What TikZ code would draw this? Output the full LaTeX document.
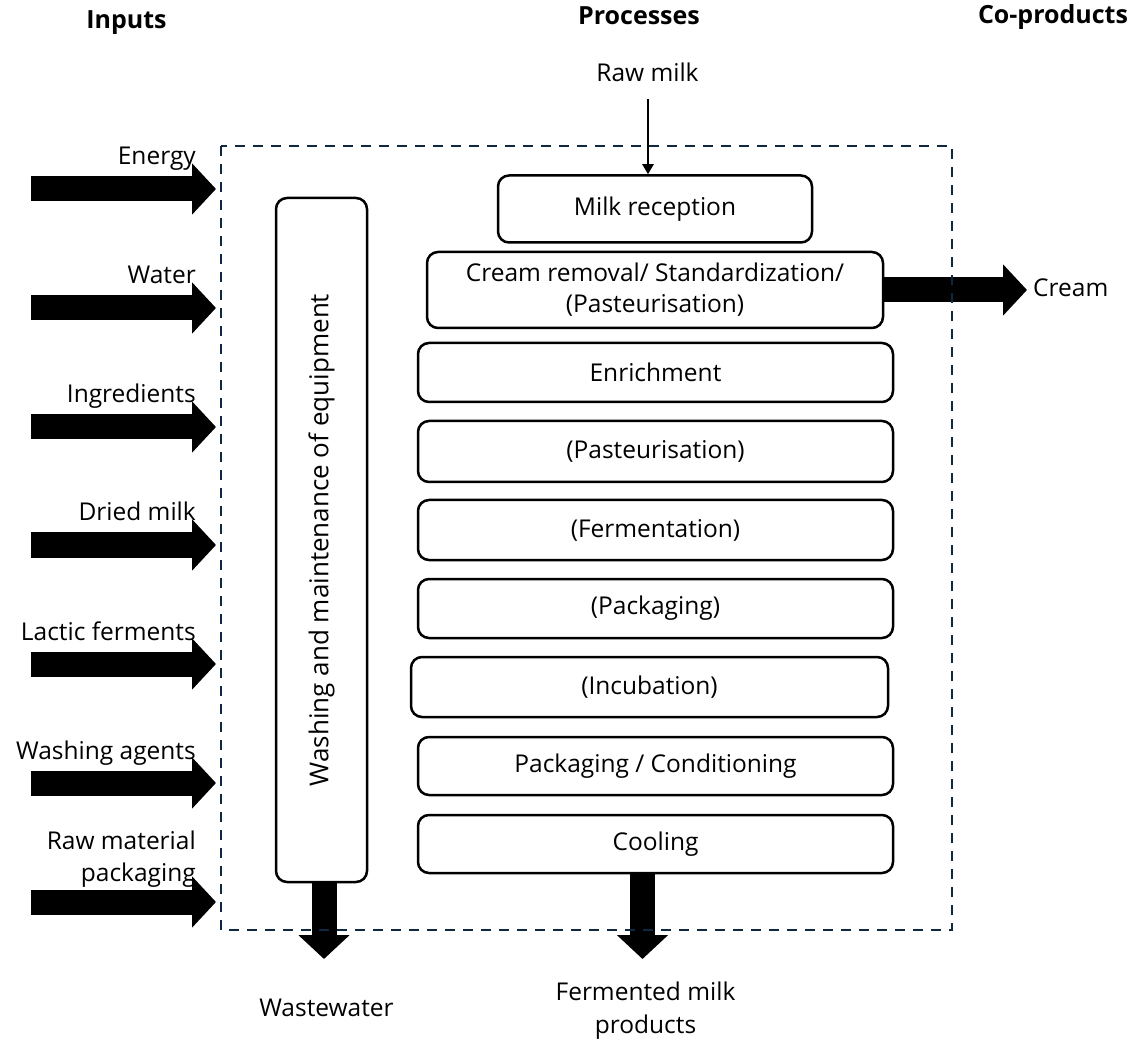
\documentclass[tikz,border=0pt]{standalone}
\usepackage{fontspec}
\setmainfont{Open Sans}
\usetikzlibrary{arrows.meta}
\definecolor{boundary}{HTML}{0E2841}

\begin{document}
\begin{tikzpicture}[x=1pt,y=-1pt,
  lbl/.style={font=\fontsize{24.5}{32}\selectfont, inner sep=0pt},
  title/.style={font=\fontsize{25}{30}\selectfont\bfseries, inner sep=0pt, anchor=base},
  stage/.style={draw, line width=2.5pt, rounded corners=11pt, inner sep=0pt,
                align=center, font=\fontsize{24.5}{31}\selectfont},
  flow/.style={line width=25pt, -{Triangle[width=50pt,length=24pt]}},
  feed/.style={line width=2.2pt, -{Triangle[width=11pt,length=10pt]}},
  boundary line/.style={draw=boundary, line width=2.7pt, dash pattern=on 10pt off 8pt}
]
\useasboundingbox (0,0) rectangle (1144,1040);

% column titles
\node[title] (tin)  at (126.5,29) {Inputs};
\node[title] (tpro) at (639,25)   {Processes};
\node[title] (tco)  at (1053,24)  {Co-products};

% process stages
\node[stage, minimum width=314pt, minimum height=67pt] (rec)   at (655,209)   {Milk reception};
\node[stage, minimum width=456pt, minimum height=76pt] (cream) at (655,290)   {Cream removal/ Standardization/\\(Pasteurisation)};
\node[stage, minimum width=475pt, minimum height=59pt] (enr)   at (655.5,372.5) {Enrichment};
\node[stage, minimum width=475pt, minimum height=61pt] (past)  at (655.5,451.5) {(Pasteurisation)};
\node[stage, minimum width=475pt, minimum height=60pt] (ferm)  at (655.5,530) {(Fermentation)};
\node[stage, minimum width=475pt, minimum height=59pt] (pack)  at (655.5,608.5) {(Packaging)};
\node[stage, minimum width=477pt, minimum height=60pt] (incub) at (649.5,687) {(Incubation)};
\node[stage, minimum width=475pt, minimum height=58pt] (cond)  at (655.5,766) {Packaging / Conditioning};
\node[stage, minimum width=475pt, minimum height=58pt] (cool)  at (655.5,844) {Cooling};

% washing column
\node[stage, minimum width=91pt, minimum height=684pt] (wash) at (321.5,540) {};
\node[lbl, rotate=90, font=\fontsize{26}{32}\selectfont] (washtxt) at (wash.center) {Washing and maintenance of equipment};

% raw milk feed
\node[lbl, anchor=base] (raw) at (647.5,82) {Raw milk};
\coordinate (rawstart) at (648,99);
\draw[feed] (rawstart) -- (rec.north -| rawstart);

% outputs
\coordinate (creamtip) at (1027,290);
\draw[flow] (cream.east) -- (creamtip);
\node[lbl, anchor=base west] (creamlbl) at (1033,297) {Cream};

\coordinate (wwtip) at (324,959);
\draw[flow] (wash.south -| wwtip) -- (wwtip);
\node[lbl, anchor=base] (ww) at (326.5,1016) {Wastewater};

\coordinate (fmtip) at (642.5,959);
\draw[flow] (cool.south -| fmtip) -- (fmtip);
\node[lbl, anchor=base] (fm1) at (645.5,1000) {Fermented milk};
\node[lbl, anchor=base] (fm2) at (645.5,1033) {products};

% inputs
\foreach \name/\y/\txt in {energy/189/Energy, water/308/Water, ingr/427/Ingredients,
                           dried/545/Dried milk, lactic/664/Lactic ferments,
                           washag/783/Washing agents}{
  \coordinate (\name s) at (31,\y);
  \coordinate (\name e) at (216,\y);
  \draw[flow] (\name s) -- (\name e);
  \node[lbl, anchor=base east] (\name l) at (196,\y-24) {\txt};
}
\coordinate (raws) at (31,902);
\coordinate (rawe) at (216,902);
\draw[flow] (raws) -- (rawe);
\node[lbl, anchor=base east] (rawl1) at (196,849) {Raw material};
\node[lbl, anchor=base east] (rawl2) at (196,881) {packaging};

% system boundary
\draw[boundary line] (221,146) rectangle (952,930);
\end{tikzpicture}
\end{document}
